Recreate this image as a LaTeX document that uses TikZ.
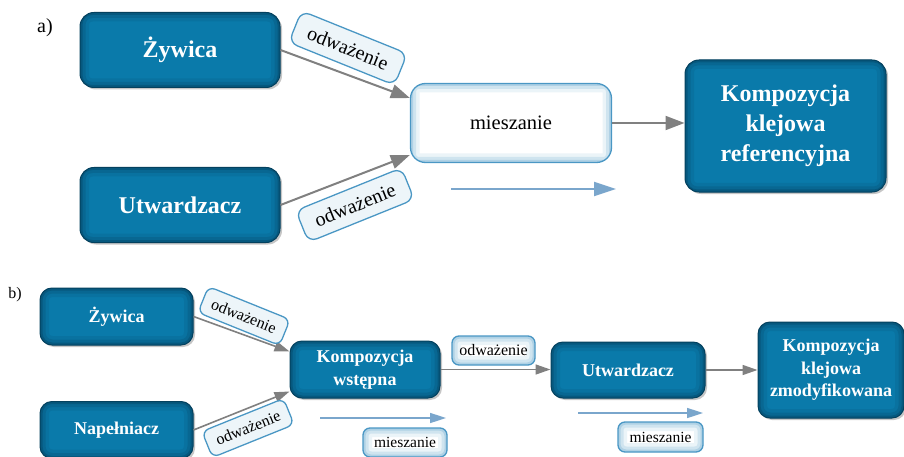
\documentclass[tikz,border=0pt]{standalone}
\usepackage{fontspec}
\setmainfont{Liberation Serif}
\usetikzlibrary{arrows.meta,shadows}
\definecolor{boxin}{HTML}{0A7AAA}
\definecolor{boxout}{HTML}{043E5A}
\definecolor{boxedge}{HTML}{04415E}
\definecolor{lightedge}{HTML}{4A97C4}
\definecolor{lightout}{HTML}{7FB6D6}
\definecolor{arrgray}{HTML}{808080}
\definecolor{arrblue}{HTML}{7AA6CC}
\tikzset{
  darkbox/.style={rounded corners=14pt, draw=boxedge, line width=1pt,
    fill=boxin, text=white, align=center,
    inner sep=0pt, drop shadow={opacity=0.45, shadow xshift=2pt, shadow yshift=-2pt},
    path picture={
      \foreach \w/\o in {18/0.12,11/0.2,5/0.35}{
        \draw[boxout, line width=\w pt, opacity=\o, rounded corners=12pt]
          (path picture bounding box.south west) rectangle (path picture bounding box.north east);}
    }},
  lightbox/.style={rounded corners=9pt, draw=lightedge, line width=1.3pt,
    fill=white, text=black, align=center, inner sep=0pt,
    path picture={
      \foreach \w/\o in {18/0.15,11/0.25,5/0.4}{
        \draw[lightout, line width=\w pt, opacity=\o, rounded corners=8pt]
          (path picture bounding box.south west) rectangle (path picture bounding box.north east);}
    }},
  rlightbox/.style={rounded corners=9pt, draw=lightedge, line width=1.3pt,
    fill=white!86!lightout, text=black, align=center, inner sep=0pt},
  garrow/.style={draw=arrgray, line width=2pt, -{Triangle[length=19pt,width=14pt]}},
  garrowsm/.style={draw=arrgray, line width=1.6pt, -{Triangle[length=15pt,width=10pt]}},
  barrow/.style={draw=arrblue, line width=2pt, -{Triangle[length=22pt,width=14pt]}},
  barrowsm/.style={draw=arrblue, line width=1.6pt, -{Triangle[length=16pt,width=10pt]}},
  bigf/.style={font=\fontsize{24}{30}\selectfont\bfseries},
  smf/.style={font=\fontsize{18}{22.5}\selectfont\bfseries},
}
\begin{document}
\begin{tikzpicture}[x=1pt,y=1pt]
\useasboundingbox (0,0) rectangle (904,-457);
% ---------- a) ----------
\node[font=\fontsize{20}{24}\selectfont] (la) at (45,-28) {a)};
\node[darkbox,bigf,minimum width=200pt,minimum height=75pt] (zyw) at (180,-50) {Żywica};
\node[darkbox,bigf,minimum width=200pt,minimum height=75pt] (utw) at (180,-205) {Utwardzacz};
\node[lightbox,rounded corners=15pt,font=\fontsize{20.5}{24}\selectfont,minimum width=201pt,minimum height=79pt] (mix) at (511,-123) {mieszanie};
\node[darkbox,bigf,minimum width=201pt,minimum height=132pt] (ref) at (785.5,-126) {Kompozycja\\klejowa\\referencyjna};
\draw[garrow] (zyw.east) -- ([yshift=25pt]mix.west);
\draw[garrow] (utw.east) -- ([yshift=-32pt]mix.west);
\draw[garrow] (mix.east) -- (ref.west |- mix.east);
\node[rlightbox,font=\fontsize{20}{24}\selectfont,minimum width=114pt,minimum height=34pt,rotate=-22] (o1) at (348,-48) {odważenie};
\node[rlightbox,font=\fontsize{20}{24}\selectfont,minimum width=114pt,minimum height=34pt,rotate=22] (o2) at (355,-205) {odważenie};
\coordinate (ba1) at (451,-189);
\coordinate (ba2) at (616,-189);
\draw[barrow] (ba1) -- (ba2);
% ---------- b) ----------
\node[font=\fontsize{16}{20}\selectfont] (lb) at (15,-295) {b)};
\node[darkbox,smf,rounded corners=12pt,minimum width=153pt,minimum height=57pt] (zyw2) at (116.5,-316.5) {Żywica};
\node[darkbox,smf,rounded corners=12pt,minimum width=153pt,minimum height=57pt] (nap) at (116.5,-430) {Napełniacz};
\node[darkbox,smf,rounded corners=12pt,minimum width=150pt,minimum height=57pt] (wst) at (365,-369.5) {Kompozycja\\wstępna};
\node[darkbox,smf,rounded corners=12pt,minimum width=154pt,minimum height=56pt] (utw2) at (628,-370) {Utwardzacz};
\node[darkbox,smf,rounded corners=12pt,minimum width=146pt,minimum height=96pt] (zmod) at (831,-370) {Kompozycja\\klejowa\\zmodyfikowana};
\draw[garrowsm] (zyw2.east) -- ([yshift=18pt]wst.west);
\draw[garrowsm] (nap.east) -- ([yshift=-22pt]wst.west);
\draw[garrowsm] (wst.east) -- (utw2.west |- wst.east);
\draw[garrowsm] (utw2.east) -- (zmod.west |- utw2.east);
\node[rlightbox,rounded corners=7pt,font=\fontsize{16}{20}\selectfont,minimum width=88pt,minimum height=28pt,rotate=-22] (o3) at (244,-316) {odważenie};
\node[rlightbox,rounded corners=7pt,font=\fontsize{16}{20}\selectfont,minimum width=88pt,minimum height=28pt,rotate=22] (o4) at (248,-428) {odważenie};
\node[lightbox,rounded corners=7pt,font=\fontsize{16}{20}\selectfont,minimum width=83pt,minimum height=29pt] (o5) at (493.5,-350.5) {odważenie};
\node[lightbox,rounded corners=7pt,font=\fontsize{15.5}{20}\selectfont,minimum width=84pt,minimum height=29pt] (m1) at (405,-442.5) {mieszanie};
\node[lightbox,rounded corners=7pt,font=\fontsize{15.5}{20}\selectfont,minimum width=85pt,minimum height=30pt] (m2) at (660.5,-437) {mieszanie};
\coordinate (bb1) at (320,-418);
\coordinate (bb2) at (446,-418);
\coordinate (bc1) at (578,-413);
\coordinate (bc2) at (703,-413);
\draw[barrowsm] (bb1) -- (bb2);
\draw[barrowsm] (bc1) -- (bc2);
\end{tikzpicture}
\end{document}
